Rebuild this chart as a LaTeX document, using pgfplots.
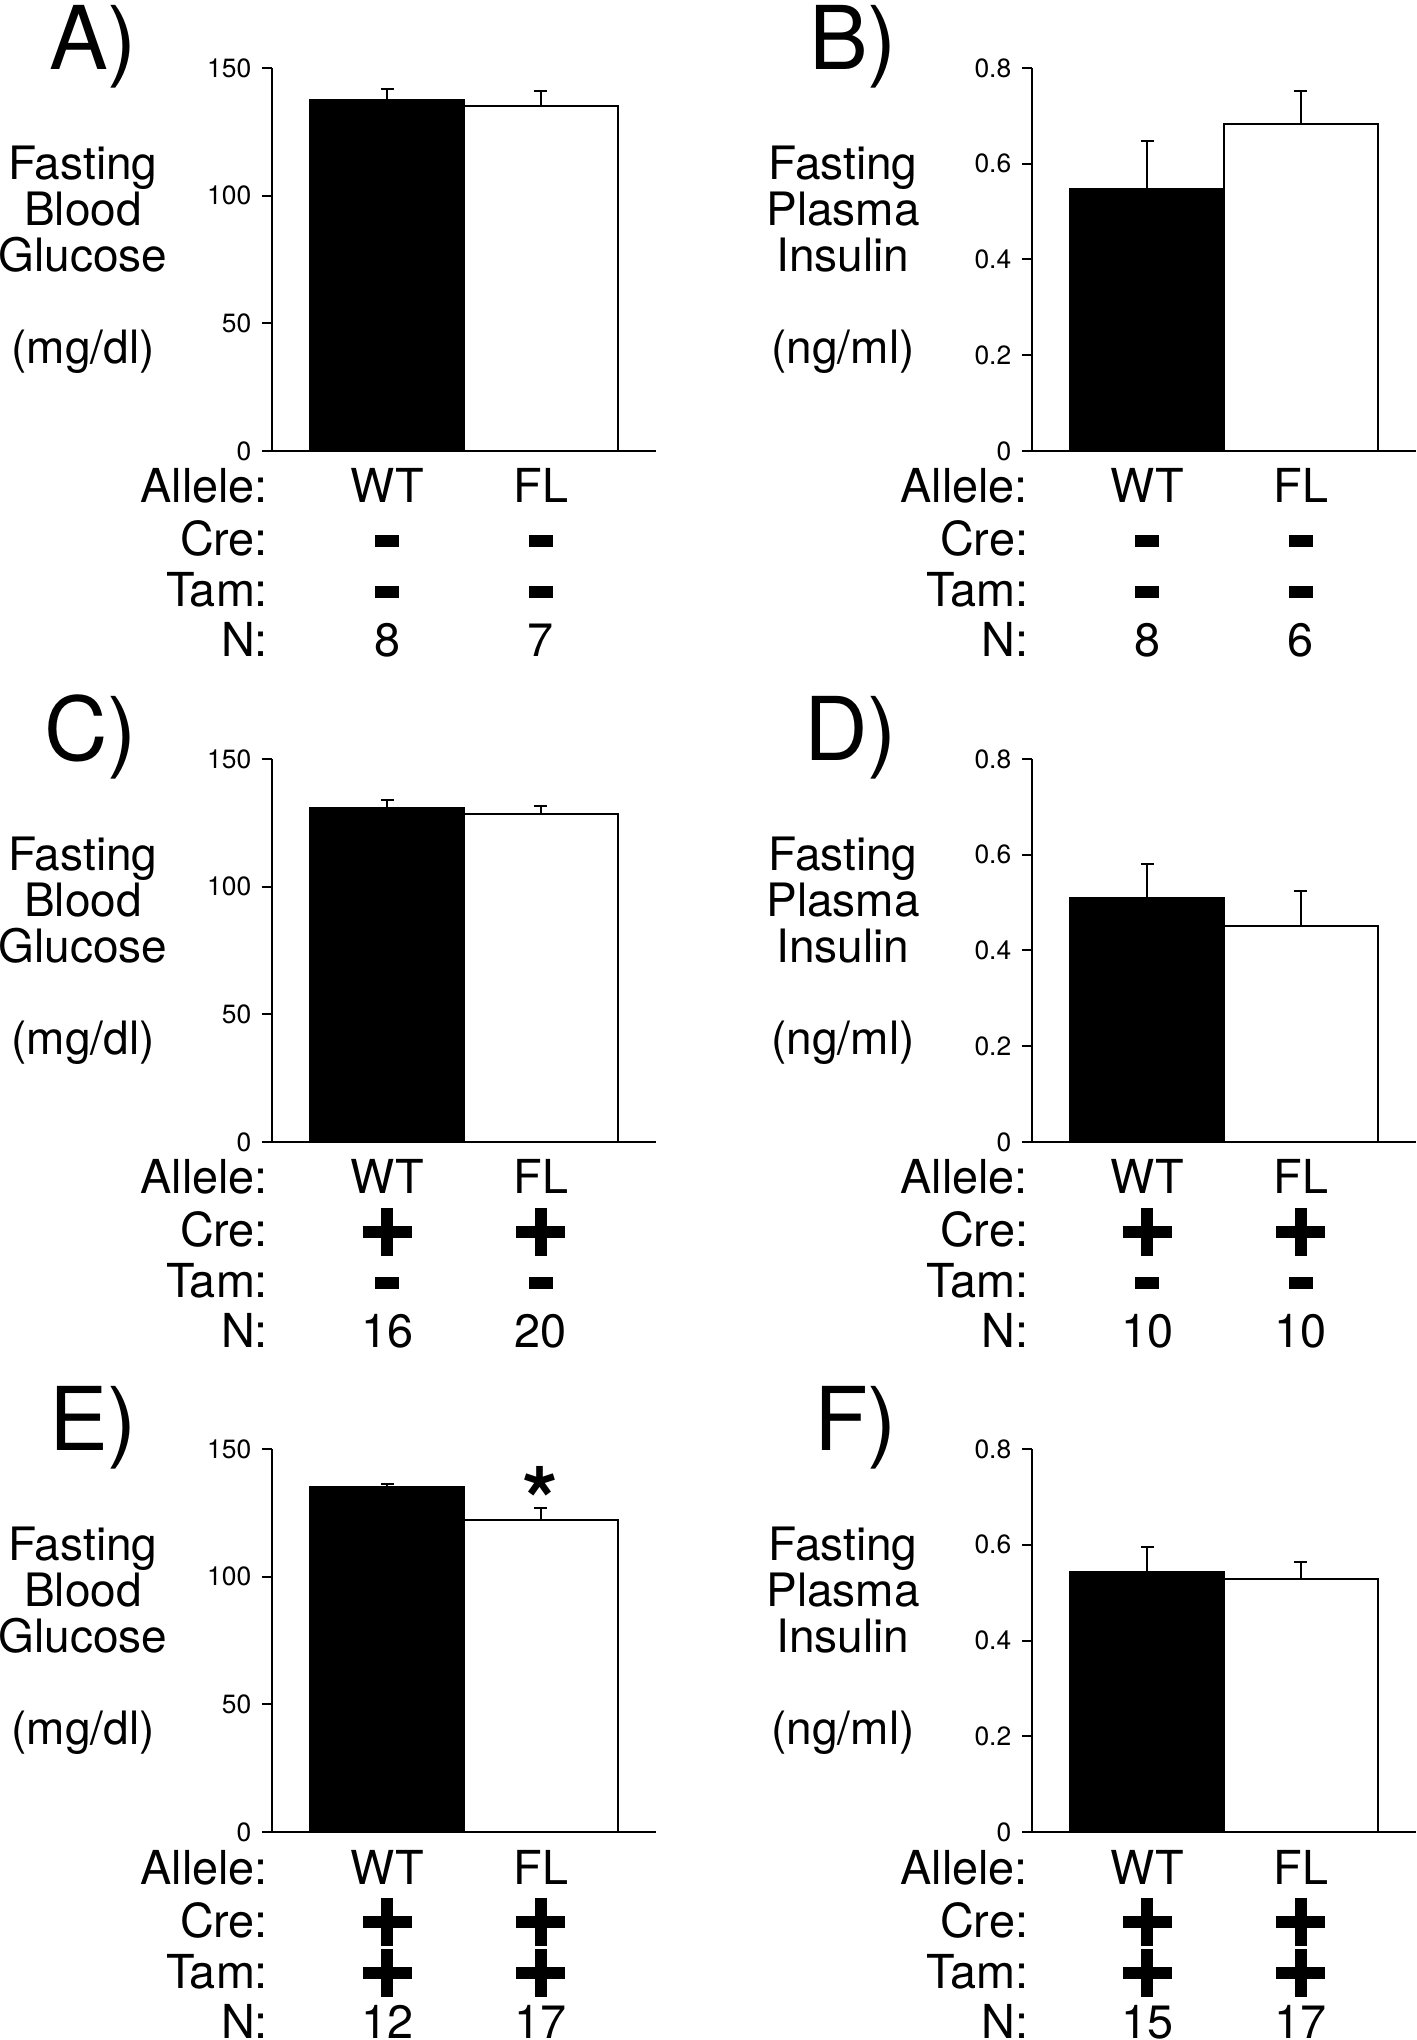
\documentclass[border=0pt]{standalone}
\usepackage{fontspec}
\setmainfont{TeX Gyre Heros}
\usepackage{pgfplots}
\pgfplotsset{compat=1.18}

% filled genotype symbols, centred on the node
\newcommand{\minus}{\makebox[0pt]{\rule{6bp}{2.9bp}}}
\newcommand{\plus}{\makebox[0pt]{\rule[4.5bp]{12.25bp}{3bp}}\makebox[0pt]{\rule{3bp}{12bp}}}

\tikzset{
  lab/.style={anchor=base east, inner sep=0pt, font=\fontsize{11.7bp}{12bp}\selectfont},
  val/.style={anchor=base, inner sep=0pt, font=\fontsize{11.7bp}{12bp}\selectfont},
  sym/.style={anchor=center, inner sep=0pt},
  ylab/.style={align=center, inner sep=0pt, font=\fontsize{11.5bp}{11.5bp}\selectfont},
  letter/.style={anchor=base east, inner sep=0pt, font=\fontsize{22bp}{22bp}\selectfont},
}

\pgfplotsset{
  panel/.style={
    scale only axis, width=96bp, height=95.75bp,
    xmin=-0.75, xmax=1.75, ymin=0,
    axis x line=bottom, axis y line=left,
    axis line style={-, line width=0.5bp},
    xtick=\empty, tick align=outside, major tick length=2.5bp,
    every tick/.style={black, line width=0.5bp},
    /pgf/number format/assume math mode=true,
    yticklabel style={font=\fontsize{6.6bp}{7bp}\selectfont, inner sep=0pt, xshift=-2.5bp},
    clip=false,
  },
  glu/.style={panel, ymax=150, ytick={0,50,100,150}},
  ins/.style={panel, ymax=0.8, ytick={0,0.2,0.4,0.6,0.8}, yticklabels={0,0.2,0.4,0.6,0.8}},
  wtbar/.style={ybar, bar width=1, fill=black, draw=black, line width=0.5bp,
    error bars/.cd, y dir=plus, y explicit, error mark=|,
    error bar style={line width=0.5bp, black},
    error mark options={line width=0.5bp, mark size=1.6bp, black}},
  flbar/.style={ybar, bar width=1, fill=white, draw=black, line width=0.5bp,
    error bars/.cd, y dir=plus, y explicit, error mark=|,
    error bar style={line width=0.5bp, black},
    error mark options={line width=0.5bp, mark size=1.6bp, black}},
}

\newcommand{\rows}[6]{%
  \node[lab] at ([xshift=-0.8bp,yshift=-13bp]rel axis cs:0,0) {Allele:};
  \node[lab] at ([xshift=-0.8bp,yshift=-26.25bp]rel axis cs:0,0) {Cre:};
  \node[lab] at ([xshift=-0.8bp,yshift=-39bp]rel axis cs:0,0) {Tam:};
  \node[lab] at ([xshift=-0.8bp,yshift=-51.5bp]rel axis cs:0,0) {N:};
  \node[val] at ([yshift=-13bp]axis cs:0,0) {WT};
  \node[val] at ([yshift=-13bp]axis cs:1,0) {FL};
  \node[sym] at ([yshift=-22.5bp]axis cs:0,0) {#1};
  \node[sym] at ([yshift=-22.5bp]axis cs:1,0) {#2};
  \node[sym] at ([yshift=-35.25bp]axis cs:0,0) {#3};
  \node[sym] at ([yshift=-35.25bp]axis cs:1,0) {#4};
  \node[val] at ([yshift=-51.5bp]axis cs:0,0) {#5};
  \node[val] at ([yshift=-51.5bp]axis cs:1,0) {#6};
}

\begin{document}
\begin{tikzpicture}
\useasboundingbox (0,0) rectangle (354.25bp,510bp);

% A
\begin{axis}[glu, at={(68bp,397.25bp)}]
  \addplot[wtbar] coordinates {(0,137.3) +- (0,4.4)};
  \addplot[flbar] coordinates {(1,135.2) +- (0,5.6)};
  \node[letter] at ([xshift=-33.5bp,yshift=-0.4bp]rel axis cs:0,1) {A)};
  \node[ylab] at ([xshift=-47.25bp]rel axis cs:0,0.5) {Fasting\\Blood\\Glucose\\[11.5bp](mg/dl)};
  \rows{\minus}{\minus}{\minus}{\minus}{8}{7}
\end{axis}

% B
\begin{axis}[ins, at={(258bp,397.25bp)}]
  \addplot[wtbar] coordinates {(0,0.548) +- (0,0.100)};
  \addplot[flbar] coordinates {(1,0.684) +- (0,0.067)};
  \node[letter] at ([xshift=-33.5bp,yshift=-0.4bp]rel axis cs:0,1) {B)};
  \node[ylab] at ([xshift=-47.25bp]rel axis cs:0,0.5) {Fasting\\Plasma\\Insulin\\[11.5bp](ng/ml)};
  \rows{\minus}{\minus}{\minus}{\minus}{8}{6}
\end{axis}

% C
\begin{axis}[glu, at={(68bp,224.5bp)}]
  \addplot[wtbar] coordinates {(0,130.9) +- (0,2.9)};
  \addplot[flbar] coordinates {(1,128.4) +- (0,3.0)};
  \node[letter] at ([xshift=-33.5bp,yshift=-0.4bp]rel axis cs:0,1) {C)};
  \node[ylab] at ([xshift=-47.25bp]rel axis cs:0,0.5) {Fasting\\Blood\\Glucose\\[11.5bp](mg/dl)};
  \rows{\plus}{\plus}{\minus}{\minus}{16}{20}
\end{axis}

% D
\begin{axis}[ins, at={(258bp,224.5bp)}]
  \addplot[wtbar] coordinates {(0,0.509) +- (0,0.071)};
  \addplot[flbar] coordinates {(1,0.452) +- (0,0.073)};
  \node[letter] at ([xshift=-33.5bp,yshift=-0.4bp]rel axis cs:0,1) {D)};
  \node[ylab] at ([xshift=-47.25bp]rel axis cs:0,0.5) {Fasting\\Plasma\\Insulin\\[11.5bp](ng/ml)};
  \rows{\plus}{\plus}{\minus}{\minus}{10}{10}
\end{axis}

% E
\begin{axis}[glu, at={(68bp,52bp)}]
  \addplot[wtbar] coordinates {(0,135.1) +- (0,1.3)};
  \addplot[flbar] coordinates {(1,122.2) +- (0,4.5)};
  \node[anchor=north, inner sep=0pt, font=\fontsize{23bp}{23bp}\selectfont\bfseries] at (axis cs:1,143.5) {*};
  \node[letter] at ([xshift=-33.5bp,yshift=-0.4bp]rel axis cs:0,1) {E)};
  \node[ylab] at ([xshift=-47.25bp]rel axis cs:0,0.5) {Fasting\\Blood\\Glucose\\[11.5bp](mg/dl)};
  \rows{\plus}{\plus}{\plus}{\plus}{12}{17}
\end{axis}

% F
\begin{axis}[ins, at={(258bp,52bp)}]
  \addplot[wtbar] coordinates {(0,0.544) +- (0,0.052)};
  \addplot[flbar] coordinates {(1,0.529) +- (0,0.034)};
  \node[letter] at ([xshift=-33.5bp,yshift=-0.4bp]rel axis cs:0,1) {F)};
  \node[ylab] at ([xshift=-47.25bp]rel axis cs:0,0.5) {Fasting\\Plasma\\Insulin\\[11.5bp](ng/ml)};
  \rows{\plus}{\plus}{\plus}{\plus}{15}{17}
\end{axis}
\end{tikzpicture}
\end{document}
